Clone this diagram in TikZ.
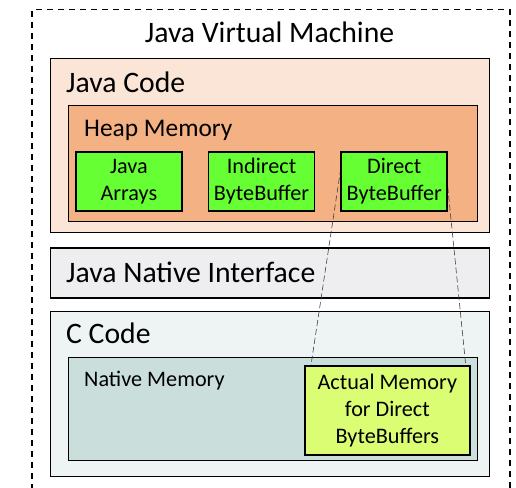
\documentclass[tikz,border=0pt]{standalone}
\usepackage{fontspec}
\setmainfont{Carlito}
\usepackage{tikz}
\usetikzlibrary{positioning, calc}

\definecolor{CodeFill}{HTML}{FBE5D6}
\definecolor{HeapFill}{HTML}{F4B183}
\definecolor{BufGreen}{HTML}{66FF33}
\definecolor{JniFill}{HTML}{EEEDF0}
\definecolor{CFill}{HTML}{EEF3F3}
\definecolor{NativeFill}{HTML}{CADEDC}
\definecolor{ActualFill}{HTML}{DAFD74}

\newcommand{\fbig}{\fontsize{29.7}{34}\selectfont}
\newcommand{\fmid}{\fontsize{25.4}{30}\selectfont}
\newcommand{\fsmall}{\fontsize{22.2}{27}\selectfont}

\pgfdeclarelayer{bg}
\pgfdeclarelayer{links}
\pgfsetlayers{bg,links,main}

\begin{document}
\begin{tikzpicture}[
  x=1pt, y=1pt,
  frame/.style={draw=black, line width=1.5pt, dash pattern=on 6pt off 5pt, anchor=north west, inner sep=0pt},
  layerbox/.style={rectangle, draw=black, line width=1.4pt, inner sep=0pt},
  bufbox/.style={rectangle, draw=black, line width=1.7pt, fill=BufGreen, minimum width=106pt, minimum height=59pt, align=center, font=\fsmall, inner sep=0pt},
  caption/.style={anchor=base west, inner sep=0pt},
  link/.style={draw=black!75, line width=0.6pt, dash pattern=on 6pt off 3pt}
]
\useasboundingbox (0,0) rectangle (516,-487);

\begin{pgfonlayer}{bg}
\node[frame, minimum width=478pt, minimum height=495pt] (jvm) at (31,-9) {};
\node[layerbox, anchor=north west, fill=CodeFill, minimum width=439pt, minimum height=174pt] (jcode) at (50,-58) {};
\node[layerbox, anchor=north west, fill=HeapFill, minimum width=409pt, minimum height=116pt] (heap) at (68,-105) {};
\node[layerbox, fill=JniFill, minimum width=439pt, minimum height=50pt, below=14pt of jcode] (jni) {};
\node[layerbox, fill=CFill, minimum width=439pt, minimum height=165pt, below=12pt of jni] (ccode) {};
\node[layerbox, anchor=north west, fill=NativeFill, minimum width=409pt, minimum height=103pt] (native) at (68,-357) {};
\end{pgfonlayer}

% titles of the layers
\node[anchor=base, inner sep=0pt, font=\fbig] (title) at (269.5,-43) {Java Virtual Machine};
\node[caption, font=\fbig] (tcode) at (66,-92) {Java Code};
\node[caption, font=\fmid] (theap) at (84,-136) {Heap Memory};
\node[caption, font=\fbig] (tjni) at (66,-282) {Java Native Interface};
\node[caption, font=\fbig] (tc) at (66,-343) {C Code};
\node[caption, font=\fsmall] (tnative) at (84,-386) {Native Memory};

% buffers in the heap
\node[bufbox, anchor=north west] (arrays) at (75,-151) {Java\\Arrays};
\node[bufbox, right=25pt of arrays] (indirect) {Indirect\\ByteBuffer};
\node[bufbox, right=25pt of indirect] (direct) {Direct\\ByteBuffer};
\node[bufbox, fill=ActualFill, minimum width=165pt, minimum height=89pt, anchor=north west] (actual) at (304,-365) {Actual Memory\\for Direct\\ByteBuffers};

\begin{pgfonlayer}{links}
\draw[link] ([xshift=3pt]direct.north west) -- ([xshift=7pt]actual.north west);
\draw[link] ([xshift=-4pt]direct.north east) -- ([xshift=-5pt]actual.north east);
\end{pgfonlayer}
\end{tikzpicture}
\end{document}
